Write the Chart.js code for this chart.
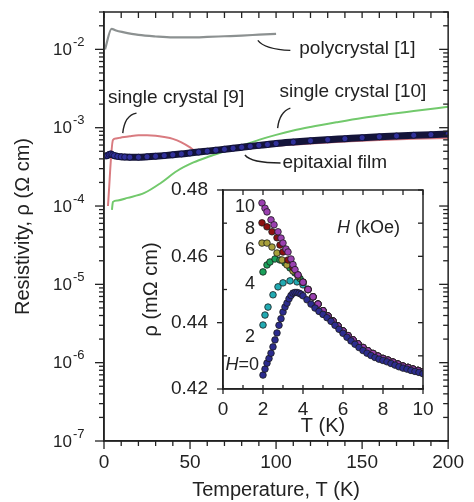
<!DOCTYPE html>
<html><head><meta charset="utf-8">
<script src="https://cdn.jsdelivr.net/npm/chart.js@4.4.1/dist/chart.umd.min.js"></script>
<style>
html,body{margin:0;padding:0;background:#fff;}
#wrap{position:relative;width:474px;height:502px;overflow:hidden;}
canvas{position:absolute;left:0;top:0;}
</style></head><body>
<div id="wrap"><canvas id="main" width="474" height="502" style="width:474px;height:502px"></canvas><canvas id="inset" width="474" height="502" style="width:474px;height:502px"></canvas></div>
<script>
// ---------- Main panel data (T in K, rho in Ohm cm) ----------
const polyT   = [0.6, 4.4, 7, 11, 20, 30, 40, 50, 60, 70, 80, 90, 100];
const polyRho = [1.0e-2, 1.83e-2, 1.74e-2, 1.66e-2, 1.53e-2, 1.46e-2, 1.42e-2, 1.42e-2, 1.44e-2, 1.47e-2, 1.50e-2, 1.54e-2, 1.58e-2];

const sc9T   = [2.3, 5.2, 7, 10, 15, 20, 25, 30, 35, 40, 45, 50, 53, 56, 60, 70, 80, 90, 100, 120, 140, 160, 180, 200];
const sc9Rho = [1.0e-4, 6.95e-4, 7.3e-4, 7.5e-4, 7.8e-4, 8.0e-4, 8.0e-4, 7.9e-4, 7.6e-4, 7.2e-4, 6.5e-4, 5.6e-4, 5.0e-4, 4.85e-4, 4.9e-4, 5.15e-4, 5.4e-4, 5.65e-4, 5.9e-4, 6.3e-4, 6.65e-4, 6.95e-4, 7.2e-4, 7.4e-4];

const sc10T   = [4.6, 5.2, 8, 13.75, 23.5, 33, 42.4, 52, 62, 70, 80, 90, 100, 110, 120, 135, 150, 165, 180, 200];
const sc10Rho = [8.9e-5, 1.13e-4, 1.18e-4, 1.27e-4, 1.47e-4, 1.97e-4, 2.8e-4, 3.6e-4, 4.35e-4, 5.0e-4, 5.9e-4, 7.0e-4, 8.1e-4, 9.2e-4, 1.02e-3, 1.17e-3, 1.33e-3, 1.48e-3, 1.63e-3, 1.85e-3];

const filmT   = [1, 2, 3, 4, 5, 6, 8, 10, 12, 15, 20, 25, 30, 35, 40, 45, 50, 55, 60, 65, 70, 75, 80, 85, 90, 95, 100, 110, 120, 130, 140, 150, 160, 170, 180, 190, 200];
const filmRho = [4.35e-4, 4.4e-4, 4.55e-4, 4.6e-4, 4.5e-4, 4.4e-4, 4.3e-4, 4.25e-4, 4.22e-4, 4.2e-4, 4.2e-4, 4.25e-4, 4.32e-4, 4.4e-4, 4.5e-4, 4.62e-4, 4.75e-4, 4.88e-4, 5.02e-4, 5.16e-4, 5.3e-4, 5.47e-4, 5.63e-4, 5.79e-4, 5.95e-4, 6.1e-4, 6.28e-4, 6.55e-4, 6.8e-4, 7.02e-4, 7.23e-4, 7.45e-4, 7.65e-4, 7.85e-4, 8.0e-4, 8.15e-4, 8.3e-4];

const mainXTicks = [0, 50, 100, 150, 200];
const mainYExponents = [-7, -6, -5, -4, -3, -2];

// ---------- Inset data (T in K, rho in mOhm cm) ----------
const h0T   = [2.0, 2.1, 2.2, 2.3, 2.4, 2.5, 2.6, 2.7, 2.8, 2.9, 3.0, 3.1, 3.2, 3.3, 3.4, 3.5, 3.6, 3.7, 3.8, 3.9, 4.0, 4.2, 4.4, 4.6, 4.8, 5.0, 5.2, 5.4, 5.6, 5.8, 6.0, 6.2, 6.4, 6.6, 6.8, 7.0, 7.2, 7.4, 7.6, 7.8, 8.0, 8.2, 8.4, 8.6, 8.8, 9.0, 9.2, 9.4, 9.6, 9.8, 10.0];
const h0Rho = [0.4242, 0.4260, 0.4278, 0.4292, 0.4308, 0.4327, 0.4348, 0.4369, 0.4392, 0.4412, 0.4432, 0.4447, 0.4459, 0.4472, 0.4482, 0.4489, 0.4491, 0.4491, 0.4489, 0.4486, 0.4481, 0.4469, 0.4456, 0.4444, 0.4434, 0.4425, 0.4415, 0.4404, 0.4392, 0.4380, 0.4368, 0.4356, 0.4345, 0.4335, 0.4325, 0.4316, 0.4308, 0.4301, 0.4295, 0.4290, 0.4286, 0.4282, 0.4277, 0.4272, 0.4267, 0.4263, 0.4260, 0.4256, 0.4253, 0.4250, 0.4246];

const h2T   = [2.0, 2.1, 2.25, 2.5, 2.75, 3.0, 3.35, 3.7, 4.0];
const h2Rho = [0.4393, 0.4423, 0.4447, 0.4484, 0.4508, 0.4520, 0.4526, 0.4523, 0.4514];
const h4T   = [2.0, 2.2, 2.35, 2.6, 2.85, 3.1, 3.35, 3.6, 3.85, 4.0];
const h4Rho = [0.4553, 0.4574, 0.4583, 0.4592, 0.4589, 0.4580, 0.4565, 0.4550, 0.4533, 0.4522];
const h6T   = [1.95, 2.2, 2.45, 2.7, 2.95, 3.2, 3.5, 3.75, 4.0];
const h6Rho = [0.4640, 0.4640, 0.4628, 0.4610, 0.4589, 0.4574, 0.4556, 0.4540, 0.4522];
const h8T   = [1.95, 2.2, 2.45, 2.7, 2.85, 3.0, 3.25, 3.5, 3.75, 4.0];
const h8Rho = [0.4701, 0.4689, 0.4674, 0.4656, 0.4634, 0.4613, 0.4589, 0.4566, 0.4544, 0.4522];
const h10T   = [1.95, 2.1, 2.2, 2.4, 2.55, 2.75, 2.9, 3.0, 3.15, 3.25, 3.4, 3.5, 3.6, 3.75, 4.0];
const h10Rho = [0.4761, 0.4745, 0.4734, 0.4710, 0.4695, 0.4674, 0.4655, 0.4640, 0.4622, 0.4613, 0.4592, 0.4575, 0.4560, 0.4544, 0.4522];
// common high-T part shared by all H > 0 curves
const tailT   = [4.25, 4.5, 4.75, 5.0, 5.25, 5.5, 5.75, 6.0, 6.25, 6.5, 6.75, 7.0, 7.25, 7.5, 7.75, 8.0, 8.25, 8.5, 8.75, 9.0, 9.25, 9.5, 9.75, 10.0];
const tailRho = [0.4500, 0.4478, 0.4456, 0.4436, 0.4420, 0.4405, 0.4390, 0.4375, 0.4361, 0.4348, 0.4336, 0.4325, 0.4315, 0.4307, 0.4299, 0.4292, 0.4287, 0.4281, 0.4275, 0.4269, 0.4265, 0.4260, 0.4256, 0.4252];

const insetXTicks = [0, 2, 4, 6, 8, 10];
const insetYTicks = [0.42, 0.44, 0.46, 0.48];
const fieldLabels = ['10', '8', '6', '4', '2'];

// ---------- helpers ----------
const FONT = '"Liberation Sans", Arial, Helvetica, sans-serif';
Chart.defaults.font.family = FONT;
Chart.defaults.color = '#222';
const pts = (xs, ys) => xs.map((v, i) => ({x: v, y: ys[i]}));
function seg(ctx, x1, y1, x2, y2) { ctx.beginPath(); ctx.moveTo(x1, y1); ctx.lineTo(x2, y2); ctx.stroke(); }

// annotation layout (data coordinates: [T, log10 rho])
const mainNotes = [
  {text: 'polycrystal [1]', at: [113.5, -1.987], leader: [[89.4, -1.885], [93.4, -2.0], [108.3, -2.013]]},
  {text: 'single crystal [9]', at: [2.3, -2.623], leader: [[10.9, -3.069], [12.0, -2.84], [18.9, -2.814]]},
  {text: 'single crystal [10]', at: [102, -2.547], leader: [[100.9, -3.005], [102, -2.80], [108.3, -2.751]]},
  {text: 'epitaxial film', at: [103.7, -3.45], leader: [[81.9, -3.349], [85.4, -3.45], [102.6, -3.45]]}
];

const mainDecor = {
  id: 'mainDecor',
  afterDraw(chart) {
    const {ctx, chartArea: a, scales: {x, y}} = chart;
    ctx.save();
    ctx.strokeStyle = '#222';
    ctx.lineWidth = 1.5;
    ctx.strokeRect(a.left, a.top, a.right - a.left, a.bottom - a.top);
    ctx.lineWidth = 1.3;
    for (const d of mainYExponents) {
      for (let k = 1; k <= 9; k++) {
        const v = k * Math.pow(10, d);
        if (v > 3.0001e-2) break;
        const p = y.getPixelForValue(v);
        const L = k === 1 ? 9 : 5;
        seg(ctx, a.left - L, p, a.left, p);
        seg(ctx, a.right - L, p, a.right, p);
      }
    }
    for (let t = 0; t <= 200; t += 10) {
      const p = x.getPixelForValue(t);
      const major = t % 50 === 0;
      seg(ctx, p, a.bottom, p, a.bottom + (major ? 8 : 5));
      seg(ctx, p, a.top, p, a.top + 6);
    }
    ctx.fillStyle = '#222';
    ctx.textBaseline = 'middle';
    for (const d of mainYExponents) {
      const p = y.getPixelForValue(Math.pow(10, d));
      ctx.font = '17px ' + FONT;
      ctx.textAlign = 'right';
      ctx.fillText('10', a.left - 32, p + 1);
      ctx.font = '13px ' + FONT;
      ctx.textAlign = 'left';
      ctx.fillText('-' + Math.abs(d), a.left - 31, p - 7);
    }
    ctx.font = '19px ' + FONT;
    ctx.textAlign = 'left';
    ctx.lineWidth = 1.4;
    for (const n of mainNotes) {
      const P = q => [x.getPixelForValue(q[0]), y.getPixelForValue(Math.pow(10, q[1]))];
      const [tx, ty] = P(n.at);
      ctx.fillText(n.text, tx, ty);
      const [s, c, e] = n.leader.map(P);
      ctx.beginPath(); ctx.moveTo(s[0], s[1]); ctx.quadraticCurveTo(c[0], c[1], e[0], e[1]); ctx.stroke();
    }
    ctx.restore();
  }
};

new Chart(document.getElementById('main'), {
  type: 'line',
  data: {
    datasets: [
      {data: pts(filmT, filmRho), order: 0, borderColor: '#14143a', borderWidth: 7, pointRadius: 3, pointBackgroundColor: '#30309a', pointBorderColor: '#0b0b2a', pointBorderWidth: 0.7, cubicInterpolationMode: 'monotone'},
      {data: pts(sc10T, sc10Rho), order: 1, borderColor: '#72c96c', borderWidth: 2, pointRadius: 0, cubicInterpolationMode: 'monotone'},
      {data: pts(sc9T, sc9Rho), order: 2, borderColor: '#d97b80', borderWidth: 2, pointRadius: 0, cubicInterpolationMode: 'monotone'},
      {data: pts(polyT, polyRho), order: 3, borderColor: '#8c9191', borderWidth: 2.2, pointRadius: 0, cubicInterpolationMode: 'monotone'}
    ]
  },
  options: {
    responsive: false, animation: false, devicePixelRatio: 1,
    layout: {padding: {left: 0, top: 12, right: 21, bottom: 0}},
    plugins: {legend: {display: false}, tooltip: {enabled: false}},
    scales: {
      x: {type: 'linear', min: 0, max: 200,
          afterBuildTicks: s => { s.ticks = mainXTicks.map(v => ({value: v})); },
          ticks: {font: {size: 19}, padding: 10, color: '#222'},
          grid: {display: false, drawTicks: false},
          border: {display: true, color: '#222', width: 1.5},
          title: {display: true, text: 'Temperature, T (K)', font: {size: 20}, color: '#222', padding: 0},
          afterFit: s => { s.height = 61; }},
      y: {type: 'logarithmic', min: 1e-7, max: 3e-2,
          ticks: {display: false},
          grid: {display: false, drawTicks: false},
          border: {display: true, color: '#222', width: 1.5},
          title: {display: true, text: 'Resistivity, ρ (Ω cm)', font: {size: 20}, color: '#222', padding: {top: 11, bottom: 0}},
          afterFit: s => { s.width = 104; }}
    }
  },
  plugins: [mainDecor]
});

// ---------- inset ----------
const insetNotes = fieldLabels.map((label, i) => ({label, at: [1.6, [0.4749, 0.4683, 0.4619, 0.4517, 0.4357][i]]}));

const insetDecor = {
  id: 'insetDecor',
  afterDraw(chart) {
    const {ctx, chartArea: a, scales: {x, y}} = chart;
    ctx.save();
    ctx.strokeStyle = '#222';
    ctx.lineWidth = 1.5;
    ctx.strokeRect(a.left, a.top, a.right - a.left, a.bottom - a.top);
    ctx.lineWidth = 1.3;
    for (let t = 0; t <= 10; t++) {
      const p = x.getPixelForValue(t);
      seg(ctx, p, a.bottom, p, a.bottom - 4);
      if (t % 2 === 0) seg(ctx, p, a.bottom, p, a.bottom + 5);
      seg(ctx, p, a.top, p, a.top + 5);
    }
    for (let k = 0; k <= 6; k++) {
      const p = y.getPixelForValue(0.42 + 0.01 * k);
      if (k % 2 === 0) seg(ctx, a.left - 6, p, a.left, p); else seg(ctx, a.left, p, a.left + 4, p);
      seg(ctx, a.right - 5, p, a.right, p);
    }
    ctx.fillStyle = '#222';
    ctx.textBaseline = 'middle';
    ctx.font = '18px ' + FONT;
    ctx.textAlign = 'right';
    for (const n of insetNotes) {
      ctx.fillText(n.label, x.getPixelForValue(n.at[0]), y.getPixelForValue(n.at[1]));
    }
    let px = x.getPixelForValue(1.8), py = y.getPixelForValue(0.4272);
    ctx.textAlign = 'left';
    const w0 = ctx.measureText('=0').width;
    ctx.font = 'italic 18px ' + FONT;
    const wH = ctx.measureText('H').width;
    ctx.fillText('H', px - w0 - wH, py);
    ctx.font = '18px ' + FONT;
    ctx.fillText('=0', px - w0, py);
    px = x.getPixelForValue(5.7); py = y.getPixelForValue(0.4686);
    ctx.font = 'italic 18px ' + FONT;
    ctx.fillText('H', px, py);
    const w1 = ctx.measureText('H').width;
    ctx.font = '18px ' + FONT;
    ctx.fillText(' (kOe)', px + w1, py);
    ctx.restore();
  }
};

const dot = (data, color, order) => ({data, order, showLine: false, pointRadius: 3.3, pointBackgroundColor: color, pointBorderColor: '#1a1a1a', pointBorderWidth: 0.8});

new Chart(document.getElementById('inset'), {
  type: 'line',
  data: {
    datasets: [
      dot(pts(h0T, h0Rho), '#2c2c8e', 0),
      dot(pts(h10T.concat(tailT), h10Rho.concat(tailRho)), '#9a40b0', 1),
      dot(pts(h8T.concat(tailT), h8Rho.concat(tailRho)), '#8c1010', 2),
      dot(pts(h6T.concat(tailT), h6Rho.concat(tailRho)), '#a8a03c', 3),
      dot(pts(h4T.concat(tailT), h4Rho.concat(tailRho)), '#1aa05a', 4),
      dot(pts(h2T.concat(tailT), h2Rho.concat(tailRho)), '#22aab2', 5)
    ]
  },
  options: {
    responsive: false, animation: false, devicePixelRatio: 1,
    layout: {padding: {left: 130, top: 190, right: 51, bottom: 64}},
    plugins: {legend: {display: false}, tooltip: {enabled: false}},
    scales: {
      x: {type: 'linear', min: 0, max: 10,
          afterBuildTicks: s => { s.ticks = insetXTicks.map(v => ({value: v})); },
          ticks: {font: {size: 19}, padding: 9, color: '#222'},
          grid: {display: false, drawTicks: false},
          border: {display: true, color: '#222', width: 1.5},
          title: {display: true, text: 'T (K)', font: {size: 20}, color: '#222', padding: 0},
          afterFit: s => { s.height = 49; }},
      y: {type: 'linear', min: 0.42, max: 0.48,
          afterBuildTicks: s => { s.ticks = insetYTicks.map(v => ({value: v})); },
          ticks: {font: {size: 19}, padding: 15, color: '#222', callback: v => v.toFixed(2)},
          grid: {display: false, drawTicks: false},
          border: {display: true, color: '#222', width: 1.5},
          title: {display: true, text: 'ρ (mΩ cm)', font: {size: 20}, color: '#222', padding: {top: 9, bottom: 0}},
          afterFit: s => { s.width = 93; }}
    }
  },
  plugins: [insetDecor]
});
</script>
</body></html>
